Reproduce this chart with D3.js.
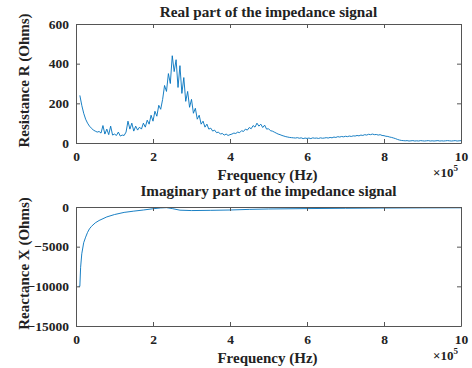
<!DOCTYPE html>
<html>
<head>
<meta charset="utf-8">
<script src="https://cdn.jsdelivr.net/npm/d3@7"></script>
<style>
  body { margin: 0; background: #fff; }
  svg text { font-family: "Times New Roman", Times, "Liberation Serif", serif !important; font-weight: bold; fill: #222; }
</style>
</head>
<body>
<svg id="chart" width="472" height="368"></svg>
<script>
"use strict";

// frequency grid of the real part (x 1e5 Hz), 5 kHz spacing
var realStart = 0.1, realStep = 0.05;
var realValues = [
  240, 190, 150, 120, 100, 85, 75, 65, 60, 55,
  58, 50, 88, 45, 70, 42, 85, 40, 45, 38,
  55, 35, 40, 38, 55, 110, 70, 100, 60, 85,
  65, 80, 70, 100, 80, 115, 95, 140, 110, 160,
  135, 190, 170, 220, 290, 260, 350, 300, 440, 360,
  420, 280, 390, 250, 330, 210, 260, 180, 220, 150,
  175, 120, 140, 95, 110, 80, 95, 70, 75, 60,
  65, 52, 55, 45, 48, 40, 45, 38, 42, 45,
  50, 48, 55, 52, 62, 58, 70, 65, 78, 72,
  88, 80, 100, 85, 95, 78, 90, 70, 72, 62,
  60, 55, 50, 45, 42, 38, 35, 32, 30, 28,
  27, 26, 25, 27, 24, 26, 22, 25, 23, 25,
  22, 26, 24, 25, 23, 26, 24, 25, 27, 25,
  28, 26, 30, 28, 32, 30, 33, 31, 34, 32,
  35, 33, 36, 35, 38, 36, 40, 38, 42, 40,
  44, 42, 45, 42, 43, 40, 42, 38, 37, 34,
  33, 30, 28, 25, 22, 18, 15, 13, 12, 11,
  12, 10, 11, 12, 10, 11, 10, 12, 11, 10,
  11, 12, 10, 11, 10, 11, 12, 10, 11, 10,
  11, 12, 11, 10, 11, 12, 10, 11, 12
];

var imagFreq = [0.07, 0.1, 0.12, 0.15, 0.2, 0.25, 0.3, 0.35, 0.4, 0.5,
  0.6, 0.8, 1.0, 1.25, 1.5, 1.75, 2.0, 2.2, 2.35, 2.5,
  2.7, 3.0, 3.5, 4.0, 4.5, 5.0, 6.0, 7.0, 8.0, 9.0, 10.0];
var imagValues = [-10000, -10000, -7600, -5900, -4500, -3800, -3200, -2750, -2450, -2000,
  -1700, -1250, -950, -680, -520, -380, -220, -120, -80, -200,
  -400, -450, -420, -380, -300, -250, -200, -160, -130, -110, -100];

var xTicks = [0, 2, 4, 6, 8, 10];
var realTicks = [0, 200, 400, 600];
var imagTicks = [0, -5000, -10000, -15000];

var svg = d3.select("#chart");
var left = 76, right = 461;
var lineColor = "#0072bd";

function drawPanel(top, bottom, titleGap, yDomain, yTicks, points, title, yLabel) {
  var x = d3.scaleLinear().domain([0, 10]).range([left, right]);
  var y = d3.scaleLinear().domain(yDomain).range([bottom, top]);
  var g = svg.append("g");

  g.append("path")
    .datum(points)
    .attr("fill", "none")
    .attr("stroke", lineColor)
    .attr("stroke-width", 0.9)
    .attr("d", d3.line().x(function(d) { return x(d[0]); }).y(function(d) { return y(d[1]); }));

  var axisBottom = g.append("g").attr("transform", "translate(0," + bottom + ")")
    .call(d3.axisBottom(x).tickValues(xTicks).tickSizeInner(-4).tickSizeOuter(0).tickPadding(8));
  var axisTop = g.append("g").attr("transform", "translate(0," + top + ")")
    .call(d3.axisTop(x).tickValues(xTicks).tickSizeInner(-4).tickSizeOuter(0).tickFormat(""));
  var axisLeft = g.append("g").attr("transform", "translate(" + left + ",0)")
    .call(d3.axisLeft(y).tickValues(yTicks).tickFormat(d3.format("d"))
      .tickSizeInner(-4).tickSizeOuter(0).tickPadding(7));
  var axisRight = g.append("g").attr("transform", "translate(" + right + ",0)")
    .call(d3.axisRight(y).tickValues(yTicks).tickSizeInner(-4).tickSizeOuter(0).tickFormat(""));

  [axisBottom, axisTop, axisLeft, axisRight].forEach(function(a) {
    a.attr("font-family", null);
    a.select(".domain").attr("stroke", "#555").attr("stroke-width", 1);
    a.selectAll(".tick line").attr("stroke", "#555");
    a.selectAll("text").style("font-size", "13.5px").attr("fill", "#222");
  });

  g.append("text")
    .attr("x", (left + right) / 2).attr("y", top - titleGap)
    .attr("text-anchor", "middle").style("font-size", "15.2px")
    .text(title);

  g.append("text")
    .attr("x", (left + right) / 2 - 1).attr("y", bottom + 37)
    .attr("text-anchor", "middle").style("font-size", "15px")
    .text("Frequency (Hz)");

  var exp = g.append("text")
    .attr("x", right - 28).attr("y", bottom + 34)
    .style("font-size", "13px");
  exp.append("tspan").text("\u00d710");
  exp.append("tspan").attr("dy", -6).style("font-size", "9px").text("5");

  g.append("text")
    .attr("transform", "translate(29," + ((top + bottom) / 2 - 3) + ") rotate(-90)")
    .attr("text-anchor", "middle").style("font-size", "15px")
    .text(yLabel);
}

var realPoints = realValues.map(function(v, i) { return [realStart + i * realStep, v]; });
var imagPoints = imagFreq.map(function(f, i) { return [f, imagValues[i]]; });

drawPanel(24, 143, 7, [0, 600], realTicks, realPoints,
  "Real part of the impedance signal", "Resistance R (Ohms)");
drawPanel(207, 326, 11, [-15000, 0], imagTicks, imagPoints,
  "Imaginary part of the impedance signal", "Reactance X (Ohms)");
</script>
</body>
</html>
